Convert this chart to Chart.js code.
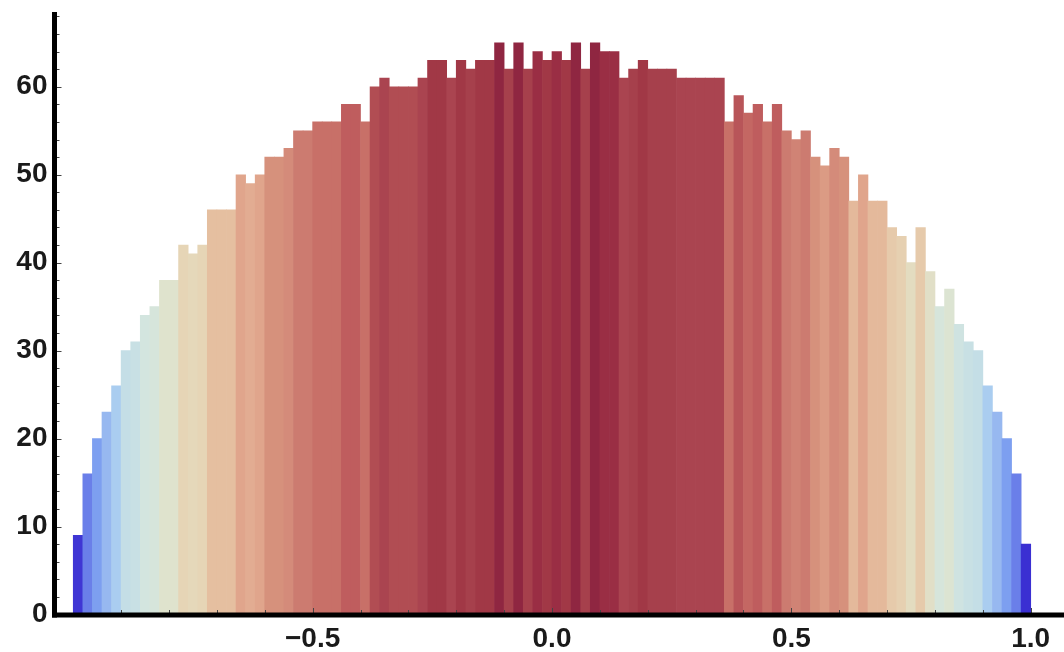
<!DOCTYPE html>
<html>
<head>
<meta charset="utf-8">
<script src="https://cdn.jsdelivr.net/npm/chart.js@4.4.0/dist/chart.umd.min.js"></script>
<style>
    html, body { margin: 0; padding: 0; background: #fff; }
    #wrap { width: 1064px; height: 652px; position: relative; }
</style>
</head>
<body>
<div id="wrap"><canvas id="histChart"></canvas></div>
<script>
// Histogram bins: 100 bins of width 0.02 from -1 to 1
const binStart = -1.0;
const binWidth = 0.02;
const counts = [
     9, 16, 20, 23, 26, 30, 31, 34, 35, 38,
    38, 42, 41, 42, 46, 46, 46, 50, 49, 50,
    52, 52, 53, 55, 55, 56, 56, 56, 58, 58,
    56, 60, 61, 60, 60, 60, 61, 63, 63, 61,
    63, 62, 63, 63, 65, 62, 65, 62, 64, 63,
    64, 63, 65, 62, 65, 64, 64, 61, 62, 63,
    62, 62, 62, 61, 61, 61, 61, 61, 56, 59,
    57, 58, 56, 58, 55, 54, 55, 52, 51, 53,
    52, 47, 50, 47, 47, 44, 43, 40, 44, 39,
    35, 37, 33, 31, 30, 26, 23, 20, 16, 8
];
const binCenters = counts.map((_, i) => +(binStart + binWidth * (i + 0.5)).toFixed(3));

// Tick labels
const xTickValues = [-0.5, 0.0, 0.5, 1.0];
const yTickValues = [0, 10, 20, 30, 40, 50, 60];

// Colour ramp keyed by bar height (blue -> cream -> dark red)
const colorStops = [
    [8, '#3a2fd2'], [9, '#3f36d4'], [16, '#6a7fe9'], [20, '#7d9ff0'], [23, '#97b8f0'],
    [26, '#aacdf0'], [30, '#c4dee6'], [34, '#d3e5df'], [38, '#dfe3cd'], [41, '#e5d8ba'],
    [42, '#e6d5b6'], [46, '#e5bfa0'], [49, '#e2ac92'], [50, '#e0a58c'], [52, '#d6917c'],
    [53, '#d48b7a'], [55, '#cc7b70'], [56, '#c87068'], [58, '#bf5d5e'], [60, '#b14d53'],
    [61, '#aa4450'], [62, '#a6404c'], [63, '#a13846'], [64, '#9a2e44'], [65, '#8f2641']
];

function hexToRgb(h) {
    return [parseInt(h.substr(1, 2), 16), parseInt(h.substr(3, 2), 16), parseInt(h.substr(5, 2), 16)];
}

function heightColor(v) {
    if (v <= colorStops[0][0]) return colorStops[0][1];
    for (let i = 1; i < colorStops.length; i++) {
        if (v <= colorStops[i][0]) {
            const a = colorStops[i - 1], b = colorStops[i];
            const t = (v - a[0]) / (b[0] - a[0]);
            const ca = hexToRgb(a[1]), cb = hexToRgb(b[1]);
            const c = ca.map((x, k) => Math.round(x + (cb[k] - x) * t));
            return `rgb(${c[0]},${c[1]},${c[2]})`;
        }
    }
    return colorStops[colorStops.length - 1][1];
}

function fmtTick(v) {
    const s = Math.abs(v).toFixed(1);
    return v < 0 ? '\u2212' + s : s;
}

const labelFont = { family: "'Liberation Sans', Arial, sans-serif", size: 28, weight: 'bold' };

// Thick black axes with small inward ticks
const axesPlugin = {
    id: 'axesPlugin',
    afterDraw(chart) {
        const { ctx, scales: { x, y } } = chart;
        const x0 = y.right;
        const y0 = x.top + 0.5;
        ctx.save();

        // minor / major ticks on x (pointing up)
        ctx.strokeStyle = '#444';
        ctx.lineWidth = 1;
        for (let k = -9; k <= 10; k++) {
            const px = Math.round(x.getPixelForValue(k / 10)) + 0.5;
            const len = (k % 5 === 0) ? 5 : 3;
            ctx.beginPath();
            ctx.moveTo(px, y0 - 2);
            ctx.lineTo(px, y0 - 2 - len);
            ctx.stroke();
        }
        // ticks on y (pointing right)
        for (let v = 2; v <= 68; v += 2) {
            const py = Math.round(y.getPixelForValue(v)) + 0.5;
            const len = (v % 10 === 0) ? 5 : 3;
            ctx.beginPath();
            ctx.moveTo(x0 + 2, py);
            ctx.lineTo(x0 + 2 + len, py);
            ctx.stroke();
        }

        // axis lines
        ctx.strokeStyle = '#000';
        ctx.lineWidth = 5;
        ctx.beginPath();
        ctx.moveTo(x0, y.top);
        ctx.lineTo(x0, y0 + 2.5);
        ctx.stroke();
        ctx.beginPath();
        ctx.moveTo(x0 - 2.5, y0);
        ctx.lineTo(chart.width, y0);
        ctx.stroke();
        ctx.restore();
    }
};

const ctx = document.getElementById('histChart');
new Chart(ctx, {
    type: 'bar',
    data: {
        datasets: [{
            data: binCenters.map((x, i) => ({ x: x, y: counts[i] })),
            backgroundColor: c => heightColor(c.raw ? c.raw.y : 0),
            borderWidth: 0,
            barPercentage: 1,
            categoryPercentage: 1
        }]
    },
    options: {
        responsive: true,
        maintainAspectRatio: false,
        animation: false,
        layout: { padding: { top: 12, right: 0, bottom: 0, left: 0 } },
        plugins: { legend: { display: false }, tooltip: { enabled: false } },
        scales: {
            x: {
                type: 'linear',
                offset: false,
                min: -1.0392,
                max: 1.0695,
                grid: { display: false, drawTicks: false },
                border: { display: false },
                afterBuildTicks: s => { s.ticks = xTickValues.map(v => ({ value: v })); },
                afterFit: s => { s.height = 37.5; s.paddingLeft = 0; s.paddingRight = 0; },
                ticks: {
                    autoSkip: false,
                    maxRotation: 0,
                    padding: 8,
                    color: '#1a1a1a',
                    font: labelFont,
                    callback: v => fmtTick(v)
                }
            },
            y: {
                min: 0,
                max: 68.5,
                grid: { display: false, drawTicks: false },
                border: { display: false },
                afterBuildTicks: s => { s.ticks = yTickValues.map(v => ({ value: v })); },
                afterFit: s => { s.width = 54.5; s.paddingTop = 0; s.paddingBottom = 0; },
                ticks: {
                    padding: 7,
                    color: '#1a1a1a',
                    font: labelFont,
                    callback: v => String(v)
                }
            }
        }
    },
    plugins: [axesPlugin]
});
</script>
</body>
</html>
